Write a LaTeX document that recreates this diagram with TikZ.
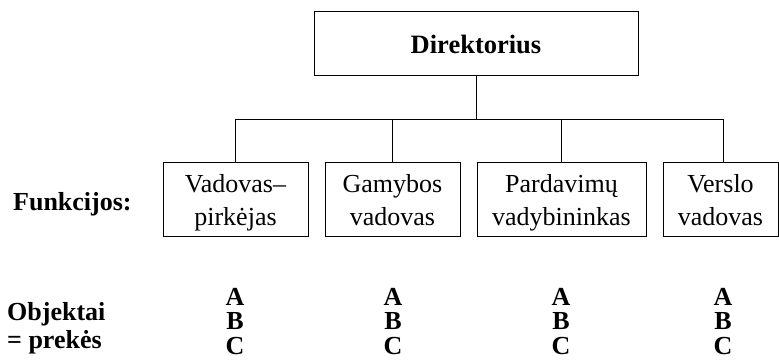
\documentclass[tikz,border=0pt]{standalone}
\usepackage{fontspec}
\setmainfont{Liberation Serif}
% struts that fix the first baseline and the last depth of a stacked label
\newcommand{\topline}[1]{\rule{0pt}{#1}}
\newcommand{\lastline}[1]{\rule[-#1]{0pt}{#1}}
\begin{document}
\begin{tikzpicture}[x=1pt,y=-1pt,
  unit/.style={draw, line width=0.9pt, inner sep=0pt, align=center,
    minimum height=74pt, font=\fontsize{26}{33}\selectfont},
  head/.style={draw, line width=1pt, inner sep=0pt,
    text height=24pt, text depth=4pt,
    font=\fontsize{26.5}{30}\selectfont\bfseries},
  rowlabel/.style={align=left, inner sep=0pt,
    font=\fontsize{26}{28}\selectfont\bfseries},
  goods/.style={anchor=north, align=center, inner sep=0pt,
    font=\fontsize{26}{24.5}\selectfont\bfseries},
  wire/.style={line width=0.8pt}]
\useasboundingbox (0,0) rectangle (779,361);

% top of the hierarchy
\node[head, minimum width=324pt, minimum height=64pt] (dir) at (476,44) {Direktorius};

% functional units
\node[unit, minimum width=145pt] (u1) at (235.5,199)
  {\topline{25pt}Vadovas–\\pirkėjas\lastline{6pt}};
\node[unit, minimum width=135pt] (u2) at (392.5,199)
  {\topline{25pt}Gamybos\\vadovas\lastline{6pt}};
\node[unit, minimum width=169pt] (u3) at (561.5,199)
  {\topline{25pt}Pardavimų\\vadybininkas\lastline{6pt}};
\node[unit, minimum width=115pt] (u4) at (720.5,199)
  {\topline{25pt}Verslo\\vadovas\lastline{6pt}};

% branching connectors
\coordinate (bus) at (476,119);
\coordinate (d1) at (235,119);
\coordinate (d4) at (723,119);
\draw[wire] (dir.south) -- (bus);
\draw[wire] (u1.north -| d1) -- (d1) -- (d4) -- (u4.north -| d4);
\draw[wire] (u2.north) -- (u2.north |- bus);
\draw[wire] (u3.north) -- (u3.north |- bus);

% row labels
\node[rowlabel, anchor=base west] (lf) at (13,210) {Funkcijos:};
\node[rowlabel, anchor=north west] (lo) at (7,300)
  {\topline{20pt}Objektai\\= prekės};

% goods handled by each unit
\node[goods] (g1) at (235,285) {\topline{20pt}A\\B\\C};
\node[goods] (g2) at (393,285) {\topline{20pt}A\\B\\C};
\node[goods] (g3) at (561,285) {\topline{20pt}A\\B\\C};
\node[goods] (g4) at (723,285) {\topline{20pt}A\\B\\C};
\end{tikzpicture}
\end{document}
